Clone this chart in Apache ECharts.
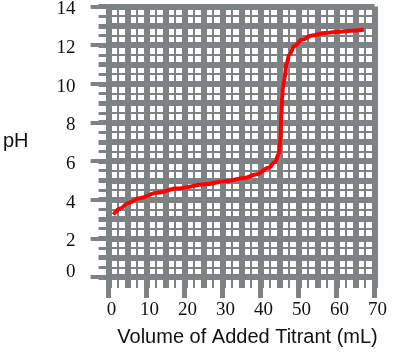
<!DOCTYPE html>
<html>
<head>
<meta charset="utf-8">
<script src="https://cdn.jsdelivr.net/npm/echarts@6/dist/echarts.min.js"></script>
<style>
  html, body { margin: 0; padding: 0; background: #fff; }
  #titration { width: 395px; height: 353px; }
</style>
</head>
<body>
<div id="titration"></div>
<script>
const volume = [1.3, 3.1, 5.1, 8.1, 12.8, 17.9, 25.5, 30.6, 35.7, 39.0, 42.1, 43.8, 44.9, 45.2, 45.5, 45.7, 45.9, 46.2, 46.4, 46.8, 47.6, 48.9, 51.0, 53.6, 57.0, 60.4, 63.8, 67.2];
const pH = [3.23, 3.55, 3.82, 4.08, 4.36, 4.58, 4.8, 4.95, 5.12, 5.32, 5.65, 5.95, 6.41, 7.08, 8.46, 9.3, 9.81, 10.15, 10.4, 11.0, 11.52, 11.95, 12.29, 12.5, 12.63, 12.69, 12.75, 12.8];

const gray = '#7d8285';
const serif = '"Liberation Serif", "DejaVu Serif", serif';
const sans = '"Liberation Sans", Arial, sans-serif';

const chart = echarts.init(document.getElementById('titration'));

chart.setOption({
    animation: false,
    grid: { left: 100, right: 20.5, top: 5, bottom: 76 },
    xAxis: [
        {
            type: 'value', min: 0, max: 70, interval: 5,
            name: 'Volume of Added Titrant (mL)',
            nameLocation: 'middle',
            nameGap: 50,
            nameTextStyle: { fontFamily: sans, fontSize: 20, color: '#111', padding: [0, 0, 0, 12] },
            axisLine: { show: false },
            axisTick: { show: true, length: 11, lineStyle: { color: gray, width: 6 } },
            minorTick: { show: true, splitNumber: 2, length: 11, lineStyle: { color: gray, width: 2 } },
            splitLine: { show: true, lineStyle: { color: gray, width: 6 } },
            minorSplitLine: { show: true, lineStyle: { color: gray, width: 2 } },
            axisLabel: {
                margin: 24,
                fontFamily: serif, fontSize: 19, color: '#111',
                padding: [0, 0, 0, 6],
                formatter: v => (v % 10 === 0 ? String(v) : '')
            }
        },
        {
            // long ticks every 10 mL
            type: 'value', min: 0, max: 70, interval: 10, position: 'bottom',
            axisLine: { show: false },
            axisTick: { show: true, length: 21, lineStyle: { color: gray, width: 5 } },
            splitLine: { show: false },
            axisLabel: { show: false }
        }
    ],
    yAxis: [
        {
            type: 'value', min: 0, max: 14, interval: 1,
            name: 'pH',
            nameLocation: 'middle',
            nameRotate: 0,
            nameGap: 80,
            nameTextStyle: { fontFamily: sans, fontSize: 20, color: '#111' },
            axisLine: { show: false },
            axisTick: { show: true, length: 10, lineStyle: { color: gray, width: 5 } },
            minorTick: { show: true, splitNumber: 2, length: 10, lineStyle: { color: gray, width: 3 } },
            splitLine: { show: true, lineStyle: { color: gray, width: 6 } },
            minorSplitLine: { show: true, lineStyle: { color: gray, width: 2 } },
            axisLabel: {
                margin: 33,
                fontFamily: serif, fontSize: 19, color: '#111',
                padding: [6, 0, 0, 0],
                formatter: v => (v % 2 === 0 ? (v === 0 ? '{z|0}' : String(v)) : ''),
                rich: { z: { fontFamily: serif, fontSize: 19, color: '#111', padding: [0, 0, 16, 0] } }
            }
        },
        {
            // long ticks every 2 pH units
            type: 'value', min: 0, max: 14, interval: 2, position: 'left', offset: 0,
            axisLine: { show: false },
            axisTick: { show: true, length: 18, lineStyle: { color: gray, width: 4 } },
            splitLine: { show: false },
            axisLabel: { show: false }
        }
    ],
    series: [
        {
            type: 'line',
            xAxisIndex: 0,
            yAxisIndex: 0,
            data: volume.map((v, i) => [v, pH[i]]),
            showSymbol: false,
            smooth: 0.4,
            smoothMonotone: 'x',
            lineStyle: { color: '#ff0000', width: 4 }
        }
    ]
});
</script>
</body>
</html>
